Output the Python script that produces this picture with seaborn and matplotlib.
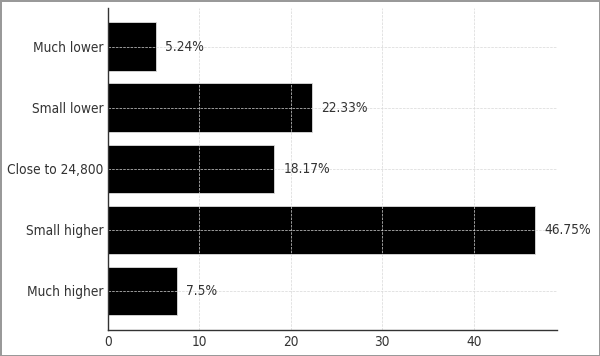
import pandas as pd
import seaborn as sns
import matplotlib.pyplot as plt

categories = ['Much lower', 'Small lower', 'Close to 24,800', 'Small higher', 'Much higher']
values = [5.24, 22.33, 18.17, 46.75, 7.5]
labels = ['5.24%', '22.33%', '18.17%', '46.75%', '7.5%']

df = pd.DataFrame({'category': categories, 'value': values})

sns.set_style('white')
plt.rcParams['font.family'] = ['DejaVu Sans']
plt.rcParams['font.stretch'] = 'condensed'

fig = plt.figure(figsize=(6, 3.56), dpi=100, edgecolor='#999999', linewidth=2)
ax = fig.add_axes([0.18, 0.073, 0.748, 0.905])

sns.barplot(data=df, x='value', y='category', color='black', saturation=1,
            width=0.8, edgecolor='#dddddd', linewidth=0.6, ax=ax)

for i, (v, lab) in enumerate(zip(values, labels)):
    ax.text(v + 1, i, lab, va='center', ha='left', fontsize=9.8, color='#333333')

ax.set_xlim(0, max(values) * 1.05)
ax.set_ylim(4.64, -0.64)
ax.set_xlabel('')
ax.set_ylabel('')
ax.set_xticks([0, 10, 20, 30, 40])
ax.grid(True, linestyle='--', color='#d8d8d8', linewidth=0.5)
ax.set_axisbelow(False)
sns.despine(ax=ax)
for s in ['left', 'bottom']:
    ax.spines[s].set_color('#333333')
    ax.spines[s].set_linewidth(1)
    ax.spines[s].set_zorder(5)
ax.tick_params(axis='both', colors='#333333', labelsize=9.8, length=3, direction='in')
ax.tick_params(axis='y', length=0)

fig.savefig('out.png', dpi=100)
